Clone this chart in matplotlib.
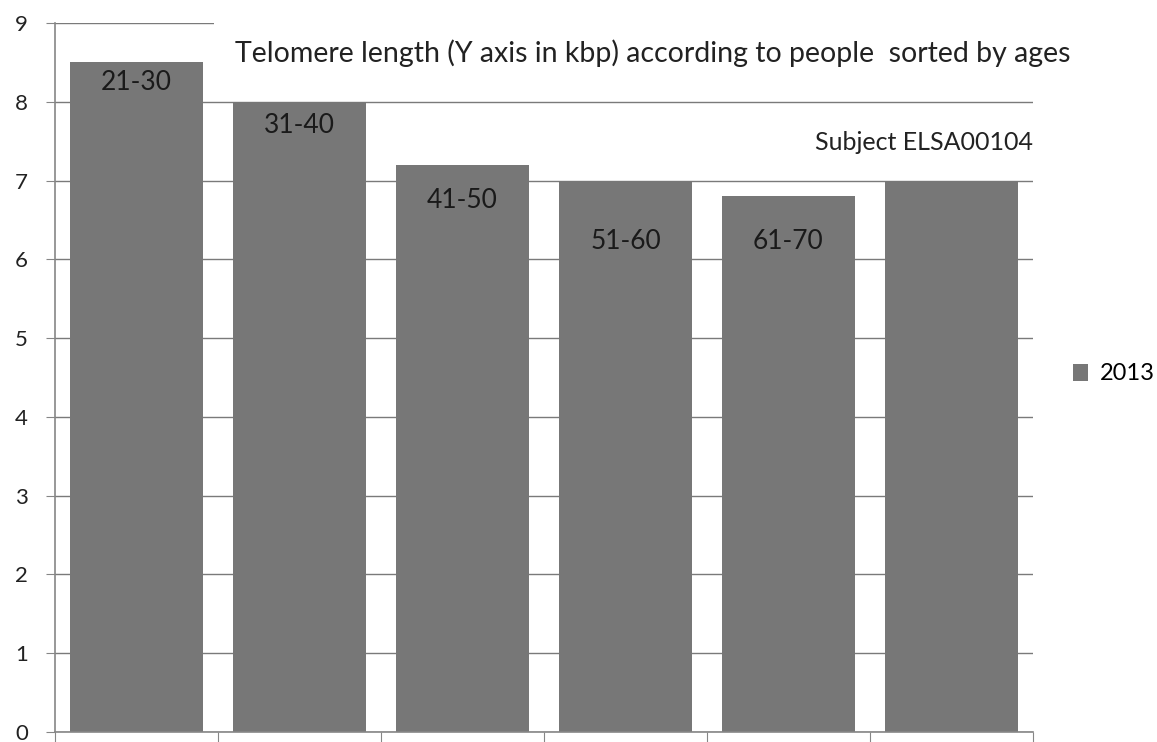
import matplotlib
matplotlib.use('Agg')
import matplotlib.pyplot as plt
from matplotlib.patches import Patch

plt.rcParams['font.family'] = ['Lato', 'DejaVu Sans']

# data
age_groups = ['21-30', '31-40', '41-50', '51-60', '61-70', '']
telomere_kbp = [8.5, 8.0, 7.2, 7.0, 6.8, 7.0]
series_name = '2013'
yticks = list(range(0, 10))

# how far below the bar top each label sits (in kbp units)
label_drop = [0.26, 0.30, 0.45, 0.78, 0.58, 0.0]

bar_color = '#777777'
axis_color = '#868686'

fig = plt.figure(figsize=(11.57, 7.42), dpi=100)
ax = fig.add_axes([0.0475, 0.0135, 0.8453, 0.9555])

x = list(range(len(telomere_kbp)))
ax.bar(x, telomere_kbp, width=1 / 1.22, color=bar_color, zorder=2)

for i, (lab, val) in enumerate(zip(age_groups, telomere_kbp)):
    if lab:
        ax.text(i, val - label_drop[i], lab, ha='center', va='center',
                fontsize=19, color='#1a1a1a', zorder=3)

ax.set_xlim(-0.5, len(x) - 0.5)
ax.set_ylim(0, 9)
ax.set_yticks(yticks)
ax.set_xticks([i - 0.5 for i in range(len(x) + 1)])
ax.set_xticklabels([])
ax.yaxis.grid(True, color='#7a7a7a', linewidth=1.0, zorder=0)
ax.set_axisbelow(True)

for side in ['top', 'right']:
    ax.spines[side].set_visible(False)
for side in ['left', 'bottom']:
    ax.spines[side].set_color(axis_color)
    ax.spines[side].set_linewidth(1.2)
ax.tick_params(axis='y', length=6.5, color=axis_color, labelsize=16,
               labelcolor='#222222', pad=13)
ax.tick_params(axis='x', length=7, color=axis_color)

ax.text(0.611, 0.958, 'Telomere length (Y axis in kbp) according to people  sorted by ages',
        transform=ax.transAxes, ha='center', va='center', fontsize=20.5,
        color='#222222', zorder=5,
        bbox=dict(facecolor='white', edgecolor='none', pad=15))
ax.text(1.0, 0.832, 'Subject ELSA00104', transform=ax.transAxes,
        ha='right', va='center', fontsize=18, color='#222222', zorder=5)

fig.legend(handles=[Patch(facecolor=bar_color, label=series_name)],
           loc='center left', bbox_to_anchor=(0.927, 0.496), frameon=False,
           fontsize=17, handlelength=0.65, handleheight=0.75, handletextpad=0.5,
           borderaxespad=0, borderpad=0)

fig.savefig('out.png', dpi=100)
